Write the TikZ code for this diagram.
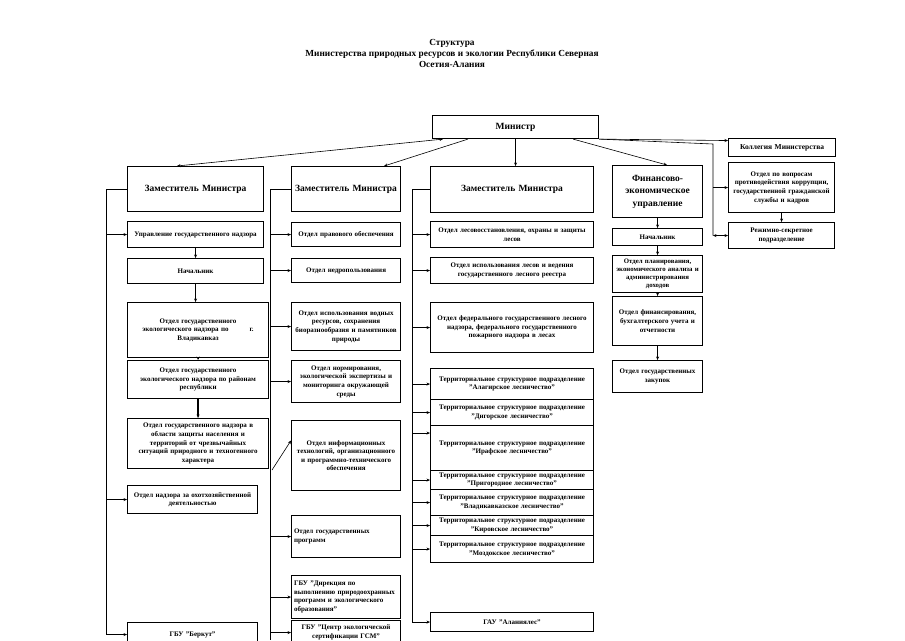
\documentclass[tikz,border=0pt]{standalone}
\usepackage{fontspec}
\setmainfont{Liberation Serif}
\usetikzlibrary{arrows.meta,calc}
\newcommand\ob[7][]{%
  \pgfmathsetmacro\obtw{#5-5}%
  \node[box,#1,anchor=north west,minimum width=#5pt,minimum height=#6pt,text width=\obtw pt] (#2) at (#3,#4) {#7};}
\begin{document}
\begin{tikzpicture}[x=1pt,y=-1pt,
  box/.style={draw,line width=1.1pt,inner xsep=1pt,inner ysep=1pt,align=center,
    font=\bfseries\fontsize{7}{8.6}\selectfont},
  big/.style={font=\bfseries\fontsize{9.5}{12.5}\selectfont},
  arr/.style={-{Stealth[length=3.5pt,width=3pt]},line width=0.6pt},
  darr/.style={{Stealth[length=3.5pt,width=3pt]}-{Stealth[length=3.5pt,width=3pt]},line width=0.6pt},
  ln/.style={line width=0.6pt}]
\useasboundingbox (0,0) rectangle (905,640);
\fill[white] (0,0) rectangle (905,640);
\clip (0,0) rectangle (905,640);

\node[align=center,font=\bfseries\fontsize{9.3}{11}\selectfont] (title) at (452,53)
  {Структура\\Министерства природных ресурсов и экологии Республики Северная\\Осетия-Алания};

% top level
\ob[big]{min}{432}{115}{166}{23}{Министр}
\ob[font=\bfseries\fontsize{7.5}{9}\selectfont]{kol}{728}{138}{107}{18}{Коллегия Министерства}
\ob[big]{d1}{127}{166}{136}{45}{Заместитель Министра}
\ob[big]{d2}{291}{166}{109}{45}{Заместитель Министра}
\ob[big]{d3}{430}{166}{163}{46}{Заместитель Министра}
\ob[big]{fin}{612}{165}{90}{52}{Финансово-\\экономическое\\управление}
\ob{kor}{728}{162}{106}{50}{Отдел по вопросам\\противодействия коррупции,\\государственной гражданской\\службы и кадров}
\ob{rez}{728}{222}{106}{26}{Режимно-секретное\\подразделение}

% column 1
\ob{upr}{127}{221}{136}{26}{Управление государственного надзора}
\ob{nach1}{127}{258}{136}{25}{Начальник}
\ob{o11}{127}{302}{141}{55}{Отдел государственного\\экологического надзора по\hspace{3em}г.\\Владикавказ}
\ob{o12}{127}{360}{141}{38}{Отдел государственного\\экологического надзора по районам\\республики}
\ob{o13}{127}{418}{141}{50}{Отдел государственного надзора в\\области защиты населения и\\территорий от чрезвычайных\\ситуаций природного и техногенного\\характера}
\ob{o14}{127}{485}{130}{28}{Отдел надзора за охотхозяйственной\\деятельностью}
\ob{berk}{127}{622}{130}{24}{ГБУ "Беркут"}

% column 2
\ob{pr}{291}{222}{109}{24}{Отдел правового обеспечения}
\ob{ned}{291}{258}{109}{24}{Отдел недропользования}
\ob{vod}{291}{302}{109}{48}{Отдел использования водных\\ресурсов, сохранения\\биоразнообразия и памятников\\природы}
\ob{norm}{291}{360}{109}{42}{Отдел нормирования,\\экологической экспертизы и\\мониторинга окружающей\\среды}
\ob{inf}{291}{420}{109}{70}{Отдел информационных\\технологий, организационного\\и программно-технического\\обеспечения}
\ob[align=left]{gp}{291}{515}{109}{42}{Отдел государственных\\программ}
\ob[align=left]{dir}{291}{575}{109}{43}{ГБУ "Дирекция по\\выполнению природоохранных\\программ и экологического\\образования"}
\ob{cent}{291}{620}{109}{24}{ГБУ "Центр экологической\\сертификации ГСМ"}

% column 3
\ob{les1}{430}{221}{163}{26}{Отдел лесовосстановления, охраны и защиты\\лесов}
\ob{les2}{430}{257}{163}{26}{Отдел использования лесов и ведения\\государственного лесного реестра}
\ob{les3}{430}{302}{163}{50}{Отдел федерального государственного лесного\\надзора, федерального государственного\\пожарного надзора в лесах}
\ob{t1}{430}{368}{163}{31}{Территориальное структурное подразделение\\"Алагирское лесничество"}
\ob{t2}{430}{399}{163}{26}{Территориальное структурное подразделение\\"Дигорское лесничество"}
\ob{t3}{430}{425}{163}{45}{Территориальное структурное подразделение\\"Ирафское лесничество"}
\ob{t4}{430}{470}{163}{19}{Территориальное структурное подразделение\\"Пригородное  лесничество"}
\ob{t5}{430}{489}{163}{26}{Территориальное структурное подразделение\\"Владикавказское  лесничество"}
\ob{t6}{430}{515}{163}{20}{Территориальное структурное подразделение\\"Кировское  лесничество"}
\ob{t7}{430}{535}{163}{27}{Территориальное структурное подразделение\\"Моздокское  лесничество"}
\ob{alan}{430}{612}{163}{19}{ГАУ "Аланиялес"}

% column 4
\ob{nach4}{612}{228}{90}{17}{Начальник}
\ob[font=\bfseries\fontsize{6.8}{8}\selectfont]{pl}{612}{255}{90}{37}{Отдел планирования,\\экономического анализа и\\администрирования\\доходов}
\ob{fn}{612}{296}{90}{49}{Отдел финансирования,\\бухгалтерского учета и\\отчетности}
\ob{zak}{612}{360}{90}{32}{Отдел государственных\\закупок}

% connectors from the minister
\draw[darr] ($(min.south west)+(11,0)$) -- ($(d1.north west)+(50,0)$);
\draw[arr] ($(min.south west)+(36,0)$) -- ($(d2.north east)+(-17,0)$);
\draw[arr] (min.south) -- (min.south |- d3.north);
\draw[arr] ($(min.south east)+(-26,0)$) -- ($(fin.north west)+(55,0)$);
\draw[arr] (min.south east) -- ($(kol.west)+(0,-7)$);
\coordinate (b5) at (713,144);
\draw[ln] (min.south east) -- (b5) -- (b5 |- rez.west);
\draw[arr] (b5 |- kor.west) -- (kor.west);
\draw[darr] (b5 |- rez.west) -- (rez.west);
\draw[arr] (kor.south) -- (rez.north);

% column 1
\coordinate (b1) at (106,188);
\draw[ln] (d1.west) -- (d1.west -| b1) -- (b1 |- berk.west);
\foreach \n in {upr,o14,berk} \draw[arr] (b1 |- \n.west) -- (\n.west);
\draw[arr] (upr.south) -- (nach1.north);
\draw[arr] (nach1.south) -- (nach1.south |- o11.north);
\draw[arr] (o11.south) -- (o12.north);
\draw[arr,line width=1.2pt] (o12.south) -- (o13.north);

% column 2
\coordinate (b2) at (270,188);
\coordinate (b2e) at (270,640);
\coordinate (infs) at (272,470);
\draw[ln] (d2.west) -- (d2.west -| b2) -- (b2e);
\foreach \n in {pr,ned,vod,norm,gp,dir,cent} \draw[arr] (b2 |- \n.west) -- (\n.west);
\draw[arr] (infs) -- ($(inf.west)+(0,-15)$);

% column 3
\coordinate (b3) at (412,188);
\draw[ln] (d3.west) -- (d3.west -| b3) -- (b3 |- alan.west);
\foreach \n in {les1,les2,les3,t1,t2,t4,t5,t6,t7,alan} \draw[arr] (b3 |- \n.west) -- (\n.west);
\draw[arr] ($(b3 |- t3.west)+(0,-15)$) -- ($(t3.west)+(0,-15)$);

% column 4
\draw[arr] (fin.south) -- (nach4.north);
\draw[arr] (nach4.south) -- (pl.north);
\draw[arr] (pl.south) -- (fn.north);
\draw[arr] (fn.south) -- (zak.north);
\end{tikzpicture}
\end{document}
